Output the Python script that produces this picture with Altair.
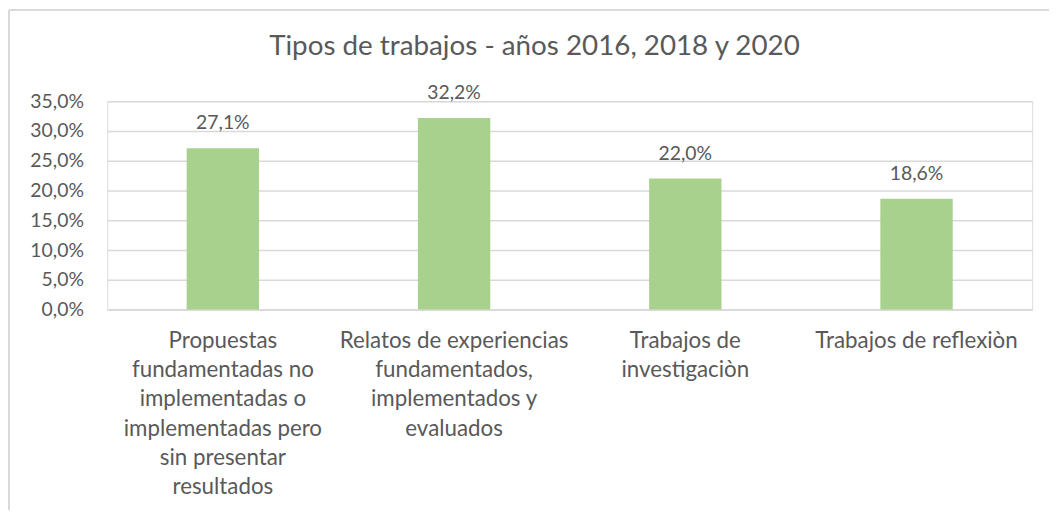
import altair as alt
import pandas as pd

categories = [
    "Propuestas\nfundamentadas no\nimplementadas o\nimplementadas pero\nsin presentar\nresultados",
    "Relatos de experiencias\nfundamentados,\nimplementados y\nevaluados",
    "Trabajos de\ninvestigaciòn",
    "Trabajos de reflexiòn",
]
values = [0.271, 0.322, 0.220, 0.186]
y_ticks = [0, 0.05, 0.10, 0.15, 0.20, 0.25, 0.30, 0.35]
title_text = "Tipos de trabajos - años 2016, 2018 y 2020"

df = pd.DataFrame({"cat": categories, "val": values})

FONT = "Lato"
TXT = "#595959"
GRID = "#D9D9D9"

x_enc = alt.X(
    "cat:N",
    sort=categories,
    title=None,
    scale=alt.Scale(paddingInner=0.687, paddingOuter=0.3435),
    axis=alt.Axis(
        labelExpr="split(datum.label, '\\n')",
        labelAngle=0,
        labelFont=FONT,
        labelFontSize=22.5,
        labelColor=TXT,
        labelLineHeight=29.5,
        labelPadding=20,
        labelLimit=400,
        ticks=False,
        domainColor=GRID,
        domainWidth=1.5,
        grid=False,
    ),
)
y_enc = alt.Y(
    "val:Q",
    title=None,
    scale=alt.Scale(domain=[0, 0.35], nice=False),
    axis=alt.Axis(
        values=y_ticks,
        labelExpr="replace(format(datum.value, '.1%'), '.', ',')",
        labelFont=FONT,
        labelFontSize=19.5,
        labelColor=TXT,
        labelPadding=24,
        ticks=False,
        domain=False,
        gridColor=GRID,
        gridWidth=1.5,
    ),
)

base = alt.Chart(df).encode(x=x_enc, y=y_enc)

bars = base.mark_bar(color="#A9D18E")
labels = base.transform_calculate(
    lab="replace(format(datum.val, '.1%'), '.', ',')"
).mark_text(
    font=FONT, fontSize=19.5, color=TXT, baseline="alphabetic", dy=-19
).encode(text="lab:N")

frame_top = alt.Chart(df).mark_rule(color=GRID, strokeWidth=1.5).encode(
    x=alt.value(-99), x2=alt.value(960), y=alt.value(-92)
)
frame_left = alt.Chart(df).mark_rule(color=GRID, strokeWidth=1.5).encode(
    x=alt.value(-99), y=alt.value(-92), y2=alt.value(420)
)

chart = (
    alt.layer(frame_top, frame_left, bars, labels)
    .properties(
        width=932,
        height=210,
        title=alt.TitleParams(
            title_text,
            font=FONT,
            fontSize=28,
            fontWeight="normal",
            color=TXT,
            anchor="middle",
            frame="bounds",
            offset=-52,
        ),
        autosize=alt.AutoSizeParams(type="none"),
        padding={"left": 100, "top": 92, "right": 17, "bottom": 200},
    )
    .configure_view(stroke=None)
    .configure(background="white")
)

chart.save("out.html", embed_options={"renderer": "svg", "actions": False})
